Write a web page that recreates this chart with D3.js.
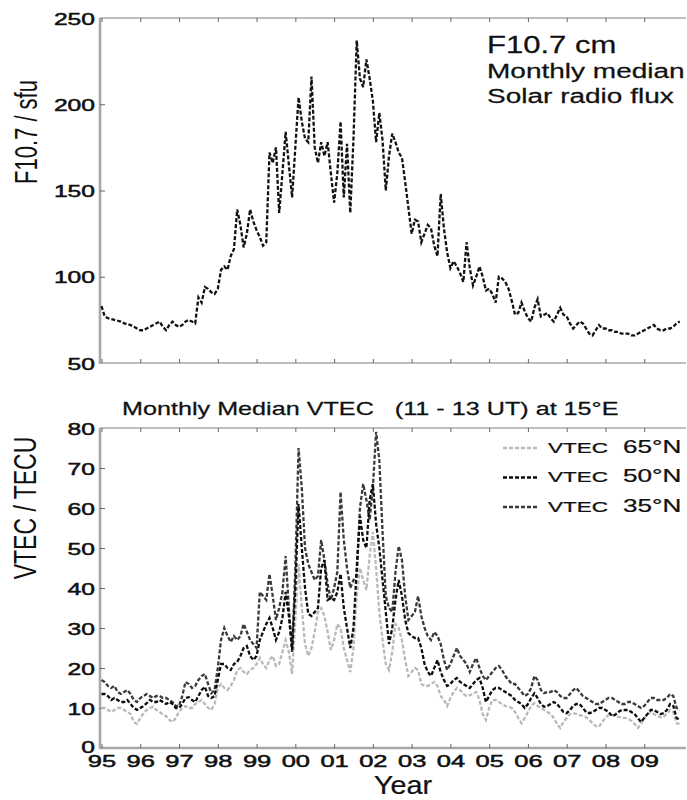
<!DOCTYPE html>
<html>
<head>
<meta charset="utf-8">
<script src="https://cdn.jsdelivr.net/npm/d3@7"></script>
<style>
  body { margin: 0; background: #fff; }
  svg { display: block; font-family: "Liberation Sans", Arial, sans-serif; }
</style>
</head>
<body>
<svg id="chart" width="687" height="800"></svg>
<script>
// monthly values, Jan 1995 .. Dec 2009
const startYear = 1995;
const yearTicks = d3.range(1995, 2010);
const yearLabels = ["95", "96", "97", "98", "99", "00", "01", "02", "03", "04", "05", "06", "07", "08", "09"];
const fluxTicks = [50, 100, 150, 200, 250];
const vtecTicks = [0, 10, 20, 30, 40, 50, 60, 70, 80];

const f107 = [
  83, 77, 76, 75.5, 75, 74.5, 74, 73, 72.5, 72, 71, 70,
  69, 69, 70, 71, 72, 73, 74, 71, 69, 72, 74, 72,
  71, 72, 74, 75, 74, 73, 88, 85, 94, 93, 91, 90,
  93, 104, 106, 104, 112, 116, 139, 130, 117, 125, 139, 132,
  127, 123, 118, 120, 172, 166, 175, 137, 160, 184, 165, 146,
  175, 204, 190, 180, 178, 216, 175, 166, 178, 170, 178, 160,
  143, 160, 190, 146, 177, 137, 180, 237, 215, 210, 226, 215,
  202, 178, 195, 179, 150, 170, 183, 178, 172, 169, 155, 140,
  125, 133, 132, 120, 125, 130, 128, 118, 112, 148, 128, 114,
  105, 109, 106, 102, 97, 120, 105, 95, 100, 106, 100, 92,
  93, 90, 85, 100, 99, 97, 93, 86, 78, 79, 85, 80,
  76, 74, 82, 87, 77, 78, 79, 76, 74, 78, 82, 78,
  77, 73, 70, 72, 74, 73, 70, 67, 66, 69, 72, 70,
  70, 69, 69, 68, 68, 67, 67, 67, 66, 66, 67, 68,
  69, 70, 71, 72, 70, 69, 69, 70, 70, 71, 73, 74
];

const vtec65 = [
  10, 10, 9.5, 9, 9.5, 10, 10, 9.5, 9, 8.5, 6.5, 6,
  7.5, 8.7, 9.5, 10, 10.3, 9.5, 9, 8.3, 8, 7, 6.5, 7.5,
  9, 10, 10.5, 10, 10, 11, 11.5, 12, 11, 10, 9.5, 11,
  15, 16, 15, 14.5, 15.5, 17, 19.5, 20, 19, 18.5, 19.5, 20,
  21, 22.5, 21, 20, 22, 23, 20.5, 21, 24, 27, 24, 18.5,
  32, 46, 35, 26, 23, 25, 29, 34, 35, 33, 29, 24.5,
  27, 31, 30, 25, 22, 19, 25, 38, 45, 42, 39.5, 48,
  54, 45, 34, 27, 21, 19.5, 24, 31, 30, 27, 22, 18,
  19, 20, 19.5, 16, 15.5, 15.5, 16, 16.5, 15.5, 13, 12, 10.5,
  12.5, 14, 15, 14.5, 13.5, 13, 13.2, 13.5, 14, 12, 8.5, 7,
  10, 12, 12, 11.5, 11, 10.5, 10.3, 10, 9, 7.5, 6.2, 7.5,
  9, 10.5, 11.2, 10.5, 10, 9.5, 9, 8.5, 7.5, 6, 5, 6.5,
  7.5, 8.5, 8.7, 8.5, 8.2, 8, 7.7, 7, 6.2, 5.5, 5.3, 6.5,
  7.5, 8.3, 8.3, 8, 7.8, 7.7, 7.5, 7.3, 6.8, 6, 5, 6,
  7.5, 8.5, 9, 8.5, 8, 7.7, 7.8, 8.5, 9.5, 9, 6.2, 6
];

const vtec50 = [
  13.5, 13.5, 13, 12, 12.5, 12, 11.5, 11.5, 12, 11, 10, 9.5,
  10, 10.5, 11.2, 12, 11.5, 11.5, 12, 11.5, 11, 11.5, 11, 10,
  10, 11, 12.5, 12.7, 12, 11.5, 13, 14.5, 15.3, 13, 12.5, 13,
  17, 21, 21, 20, 19.5, 21, 21.5, 23, 25, 25.5, 23, 22,
  23, 27, 29, 31, 32.5, 30, 27, 29, 32.5, 39, 33, 24.5,
  40, 61, 50, 40, 33.5, 33, 34, 35, 45, 47, 37, 37.5,
  37, 39, 43.5, 35, 30, 25, 30, 45, 58, 52, 50, 62,
  66, 56, 50, 42, 34, 26, 30, 37, 42, 38, 32, 28.7,
  28, 27.5, 27.5, 25, 21, 19, 18, 20, 22, 19, 17, 15.5,
  16, 17, 17.5, 16.5, 16, 15.5, 15, 16, 17, 17.5, 15, 11.5,
  13, 14.5, 15, 15, 14.5, 14, 13.5, 13, 12, 11.5, 11, 10,
  11, 12.5, 13.7, 12.5, 11, 10.3, 10.5, 11, 11.5, 11, 10, 9,
  8.7, 9.5, 10.5, 11, 11, 10, 9, 8.7, 9, 9.5, 10, 10,
  9.5, 9, 8, 8.3, 9, 9.5, 9.5, 9.5, 9, 8.5, 7.5, 6.5,
  7.5, 8.5, 9.5, 9.5, 9, 8.5, 8.7, 9.5, 11, 10.5, 7.5, 7
];

const vtec35 = [
  17, 16.5, 15.5, 15, 15.5, 14, 13.5, 14, 14.5, 13.5, 12, 11.5,
  12.5, 13, 13.5, 13, 12.5, 13, 13, 12.5, 12.5, 12, 11.5, 10.5,
  10.5, 13, 16.5, 16, 15, 15.5, 17, 18, 18.5, 16, 13.7, 14.5,
  20, 27, 30, 28, 26.5, 28, 27, 28, 31, 29, 27, 26,
  25, 39, 38, 37, 43.5, 38, 32, 35, 39, 48, 35, 24,
  45, 75, 65, 50, 46, 44, 42, 43, 52, 47, 41, 37,
  40, 44, 64, 52, 45, 40, 42, 43, 60, 66, 62, 57,
  65, 79, 72, 54, 38, 35, 34, 44, 50.5, 47, 38, 32,
  33, 34, 38, 33, 30, 28, 27, 29, 28, 26, 22, 19.5,
  21, 23, 25, 23, 22, 21, 19, 21, 22.5, 20, 18, 17,
  18, 19, 20, 20.5, 19.5, 18, 17, 16, 16, 15, 14, 13,
  13.5, 15, 18, 17, 14.5, 13.7, 14, 14, 14.5, 14, 13, 12.5,
  12.5, 13.5, 14.5, 15, 14, 13, 12.5, 12, 11.5, 11, 11, 11.5,
  12, 12.5, 12.5, 12, 11.5, 11, 11, 11.5, 11.5, 11, 10.5, 10,
  10.5, 11.5, 12.5, 12.5, 12, 12, 12, 12.5, 13.5, 13, 10, 9.5
];

const vtecSeries = [
  { name: "65°N", values: vtec65, color: "#b9b9b9" },
  { name: "35°N", values: vtec35, color: "#3a3a3a" },
  { name: "50°N", values: vtec50, color: "#0d0d0d" }
];
const legendOrder = ["65°N", "50°N", "35°N"];

const svg = d3.select("#chart");
const left = 100, right = 686;
const top1 = 18, bottom1 = 363;
const top2 = 428, bottom2 = 748;
const axisGray = "#a8a8a8";
const tickGray = "#666";

const x = d3.scaleLinear().domain([1995, 2010]).range([101.5, 683]);
const yFlux = d3.scaleLinear().domain([50, 250]).range([bottom1, top1]);
const yVtec = d3.scaleLinear().domain([0, 80]).range([bottom2, top2]);

const monthX = (d, i) => x(startYear + i / 12);

// horizontally widened text, as in the printed figure
function label(g, txt, px, py, size, sx, anchor = "start") {
  return g.append("text")
    .attr("transform", `translate(${px},${py}) scale(${sx},1)`)
    .attr("font-size", size)
    .attr("text-anchor", anchor)
    .attr("fill", "#111")
    .attr("stroke", "#111")
    .attr("stroke-width", 0.25)
    .style("white-space", "pre")
    .text(txt);
}

function panel(y, top, bottom, ticks, labelsOnBottom) {
  const g = svg.append("g");

  // frame lines
  g.append("line").attr("x1", left).attr("x2", right).attr("y1", top).attr("y2", top)
    .attr("stroke", axisGray).attr("stroke-width", 1.5);
  g.append("line").attr("x1", left).attr("x2", right).attr("y1", bottom).attr("y2", bottom)
    .attr("stroke", axisGray).attr("stroke-width", labelsOnBottom ? 2.5 : 1.5);
  g.append("line").attr("x1", left).attr("x2", left).attr("y1", top).attr("y2", bottom + 1)
    .attr("stroke", axisGray).attr("stroke-width", 2.6);

  const xb = g.append("g")
    .attr("transform", `translate(0,${bottom})`)
    .call(d3.axisBottom(x).tickValues(yearTicks).tickSizeInner(-4).tickSizeOuter(0)
      .tickFormat((d, i) => labelsOnBottom ? yearLabels[i] : ""));
  const xt = g.append("g")
    .attr("transform", `translate(0,${top})`)
    .call(d3.axisTop(x).tickValues(yearTicks).tickSizeInner(-4).tickSizeOuter(0).tickFormat(""));
  const yl = g.append("g")
    .attr("transform", `translate(${left},0)`)
    .call(d3.axisLeft(y).tickValues(ticks).tickSizeInner(-5).tickSizeOuter(0));

  [xb, xt, yl].forEach(a => {
    a.select(".domain").remove();
    a.selectAll(".tick line").attr("stroke", tickGray);
  });

  yl.selectAll(".tick text")
    .attr("x", null).attr("dy", null)
    .attr("transform", d => `translate(-5,${d === 0 ? 4.5 : 6}) scale(1.45,1)`)
    .attr("font-size", 17).attr("fill", "#111")
    .attr("stroke", "#111").attr("stroke-width", 0.5)
    .attr("font-family", null);
  // first and last values sit on the frame lines
  yl.selectAll(".tick").filter(d => d === ticks[0] || d === ticks[ticks.length - 1])
    .select("line").remove();

  if (labelsOnBottom) {
    xb.selectAll(".tick text")
      .attr("y", null).attr("dy", null)
      .attr("transform", "translate(0,19) scale(1.5,1)")
      .attr("font-size", 17).attr("fill", "#111")
      .attr("stroke", "#111").attr("stroke-width", 0.5)
      .attr("font-family", null);
  }
  return g;
}

// upper panel: solar radio flux
const g1 = panel(yFlux, top1, bottom1, fluxTicks, false);
g1.append("path")
  .datum(f107)
  .attr("fill", "none")
  .attr("stroke", "#111")
  .attr("stroke-width", 2.3)
  .attr("stroke-dasharray", "4 2")
  .attr("d", d3.line().x(monthX).y(d => yFlux(d)));

label(g1, "F10.7 cm", 487, 53, 23, 1.35);
label(g1, "Monthly median", 487, 78, 20, 1.4);
label(g1, "Solar radio flux", 487, 103, 20, 1.4);

svg.append("text")
  .attr("transform", "translate(37,132) scale(1.4,1) rotate(-90)")
  .attr("text-anchor", "middle")
  .attr("font-size", 22)
  .attr("fill", "#111")
  .text("F10.7 / sfu");

// lower panel: VTEC at three latitudes
const g2 = panel(yVtec, top2, bottom2, vtecTicks, true);
const vline = d3.line().x(monthX).y(d => yVtec(d));
g2.selectAll(".vtec")
  .data(vtecSeries)
  .join("path")
  .attr("class", "vtec")
  .attr("fill", "none")
  .attr("stroke", d => d.color)
  .attr("stroke-width", 2.3)
  .attr("stroke-dasharray", "4 2")
  .attr("d", d => vline(d.values));

label(g2, "Monthly Median VTEC   (11 - 13 UT) at 15°E", 122, 415, 18, 1.4);

legendOrder.forEach((name, i) => {
  const s = vtecSeries.find(d => d.name === name);
  const ly = 448 + i * 29.5;
  g2.append("line")
    .attr("x1", 503).attr("x2", 538).attr("y1", ly).attr("y2", ly)
    .attr("stroke", s.color).attr("stroke-width", 2.3).attr("stroke-dasharray", "4 2");
  label(g2, "VTEC", 548, ly + 4.5, 15, 1.5);
  label(g2, s.name, 623, ly + 4.5, 18, 1.45);
});

svg.append("text")
  .attr("transform", "translate(36,508) scale(1.4,1) rotate(-90)")
  .attr("text-anchor", "middle")
  .attr("font-size", 23)
  .attr("fill", "#111")
  .text("VTEC / TECU");

label(svg, "Year", 403, 794, 25, 1.15, "middle");
</script>
</body>
</html>
